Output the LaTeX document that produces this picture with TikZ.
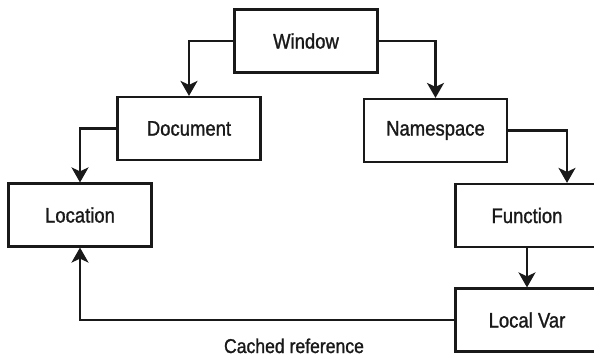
\documentclass[tikz,border=0pt]{standalone}
\usepackage{fontspec}
\setmainfont{Liberation Sans}[FakeStretch=0.88,FakeBold=1.2]
\usetikzlibrary{arrows.meta,calc}
\begin{document}
\begin{tikzpicture}[x=1pt,y=-1pt,
  box/.style={draw=black!90,line width=2.2pt,minimum width=143pt,minimum height=63pt,inner sep=0pt,font=\fontsize{21}{24}\selectfont,text=black!90},
  conn/.style={draw=black!90,line width=2.2pt,-{Stealth[length=15pt,width=17pt,inset=4pt]}},
  lbl/.style={font=\fontsize{20}{22}\selectfont,text=black!90,inner sep=0pt,anchor=base}]
\useasboundingbox (0,0) rectangle (594,358);
\clip (0,0) rectangle (594,358);
\node[box] (win) at (306,41) {Window};
\node[box] (doc) at (189,128.5) {Document};
\node[box] (ns) at (435.5,130.5) {Namespace};
\node[box] (loc) at (80,215) {Location};
\node[box] (fun) at (527,215.5) {Function};
\node[box] (lv) at (527,320) {Local Var};
\coordinate (funin) at ($(fun.north)+(40,0)$);
\draw[conn] (win.west) -| (doc.north);
\draw[conn] (win.east) -| (ns.north);
\draw[conn] (doc.west) -| (loc.north);
\draw[conn] (ns.east) -| (funin);
\draw[conn] (fun.south) -- (lv.north);
\draw[conn] (lv.west) -| (loc.south);
\node[lbl] (cr) at (294,353) {Cached reference};
\end{tikzpicture}
\end{document}
